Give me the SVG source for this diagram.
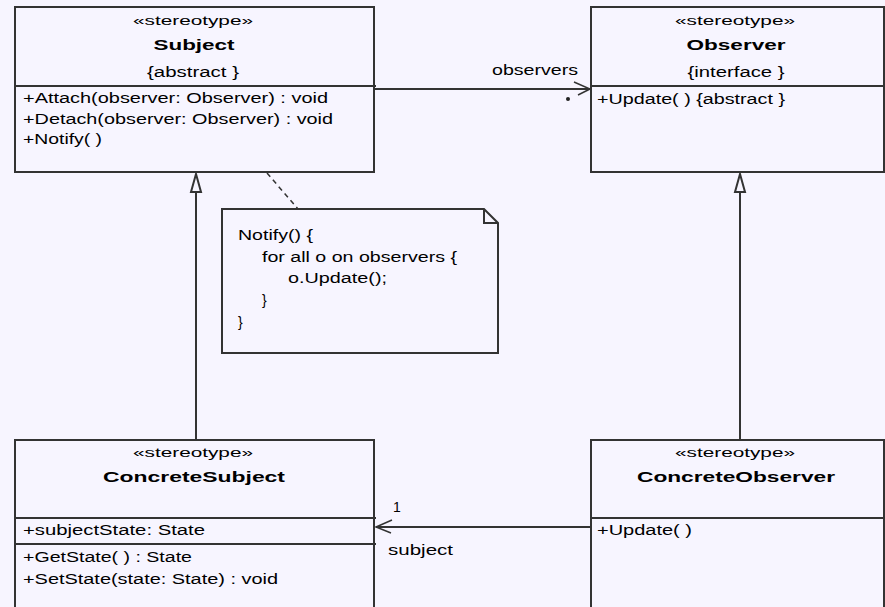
<svg xmlns="http://www.w3.org/2000/svg" width="885" height="607" viewBox="0 0 885 607">
<style>
  .bg { fill: #F7F5FF; }
  .box { fill: #F7F5FF; stroke: #333; stroke-width: 2; }
  .ln { stroke: #333; stroke-width: 2; fill: none; }
  .thin { stroke: #333; stroke-width: 1.5; fill: none; }
  text { font-family: "Liberation Sans", Arial, sans-serif; font-size: 14px; fill: #000; }
  .st { font-size: 13px; }
  .b { font-weight: bold; font-size: 15px; }
</style>
<rect class="bg" x="0" y="0" width="885" height="607"/>

<g id="connectors">
  <!-- Subject -> Observer association -->
  <line class="ln" x1="374" y1="89" x2="590" y2="89"/>
  <polyline class="thin" points="574,82 590,89 578,95"/>
  <circle cx="568" cy="99" r="2" fill="#222"/>
  <text x="492" y="75" textLength="86" lengthAdjust="spacingAndGlyphs">observers</text>
  <!-- ConcreteObserver -> ConcreteSubject association -->
  <line class="ln" x1="376" y1="527" x2="591" y2="527"/>
  <polyline class="thin" points="392,520 376,527 391,533"/>
  <text x="393" y="512">1</text>
  <text x="388" y="555" textLength="65" lengthAdjust="spacingAndGlyphs">subject</text>
  <!-- Generalizations -->
  <line class="ln" x1="196" y1="440" x2="196" y2="192"/>
  <polygon class="ln" points="196,174 191,192 201,192" style="fill:#F7F5FF"/>
  <line class="ln" x1="740" y1="440" x2="740" y2="192"/>
  <polygon class="ln" points="740,174 735,192 745,192" style="fill:#F7F5FF"/>
  <!-- Note anchor -->
  <line class="thin" x1="267" y1="173" x2="298" y2="209" stroke-dasharray="5,4"/>
</g>

<g id="subject">
  <rect class="box" x="15" y="7" width="359" height="165"/>
  <line class="ln" x1="15" y1="86" x2="376" y2="86"/>
  <text class="st" x="193" y="25" text-anchor="middle" textLength="120" lengthAdjust="spacingAndGlyphs">«stereotype»</text>
  <text class="b" x="194" y="50" text-anchor="middle" textLength="81" lengthAdjust="spacingAndGlyphs">Subject</text>
  <text x="193" y="77" text-anchor="middle" textLength="92" lengthAdjust="spacingAndGlyphs">{abstract }</text>
  <text x="23" y="103" textLength="305" lengthAdjust="spacingAndGlyphs">+Attach(observer: Observer) : void</text>
  <text x="23" y="124" textLength="310" lengthAdjust="spacingAndGlyphs">+Detach(observer: Observer) : void</text>
  <text x="23" y="144" textLength="79" lengthAdjust="spacingAndGlyphs">+Notify( )</text>
</g>

<g id="observer">
  <rect class="box" x="591" y="7" width="293" height="165"/>
  <line class="ln" x1="591" y1="86" x2="884" y2="86"/>
  <text class="st" x="735" y="25" text-anchor="middle" textLength="120" lengthAdjust="spacingAndGlyphs">«stereotype»</text>
  <text class="b" x="736" y="50" text-anchor="middle" textLength="99" lengthAdjust="spacingAndGlyphs">Observer</text>
  <text x="736" y="77" text-anchor="middle" textLength="97" lengthAdjust="spacingAndGlyphs">{interface }</text>
  <text x="597" y="104" textLength="188" lengthAdjust="spacingAndGlyphs">+Update( ) {abstract }</text>
</g>

<g id="note">
  <polygon class="box" points="222,209 484,209 498,223 498,353 222,353"/>
  <polyline class="ln" points="484,209 484,223 498,223"/>
  <text x="238" y="240" textLength="75" lengthAdjust="spacingAndGlyphs">Notify() {</text>
  <text x="262" y="262" textLength="195" lengthAdjust="spacingAndGlyphs">for all o on observers {</text>
  <text x="288" y="283" textLength="99" lengthAdjust="spacingAndGlyphs">o.Update();</text>
  <text x="262" y="305">}</text>
  <text x="238" y="327">}</text>
</g>

<g id="concrete-subject">
  <rect class="box" x="15" y="440" width="359" height="180"/>
  <line class="ln" x1="15" y1="518" x2="376" y2="518"/>
  <line class="ln" x1="15" y1="544" x2="376" y2="544"/>
  <text class="st" x="193" y="457" text-anchor="middle" textLength="120" lengthAdjust="spacingAndGlyphs">«stereotype»</text>
  <text class="b" x="194" y="482" text-anchor="middle" textLength="182" lengthAdjust="spacingAndGlyphs">ConcreteSubject</text>
  <text x="23" y="535" textLength="182" lengthAdjust="spacingAndGlyphs">+subjectState: State</text>
  <text x="23" y="562" textLength="169" lengthAdjust="spacingAndGlyphs">+GetState( ) : State</text>
  <text x="23" y="584" textLength="255" lengthAdjust="spacingAndGlyphs">+SetState(state: State) : void</text>
</g>

<g id="concrete-observer">
  <rect class="box" x="591" y="440" width="293" height="180"/>
  <line class="ln" x1="591" y1="518" x2="884" y2="518"/>
  <text class="st" x="735" y="457" text-anchor="middle" textLength="120" lengthAdjust="spacingAndGlyphs">«stereotype»</text>
  <text class="b" x="736" y="482" text-anchor="middle" textLength="198" lengthAdjust="spacingAndGlyphs">ConcreteObserver</text>
  <text x="597" y="535" textLength="95" lengthAdjust="spacingAndGlyphs">+Update( )</text>
</g>
</svg>
